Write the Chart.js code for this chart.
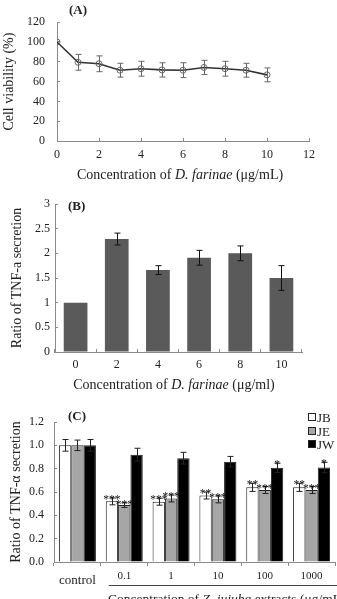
<!DOCTYPE html>
<html>
<head>
<meta charset="utf-8">
<script src="https://cdn.jsdelivr.net/npm/chart.js@4.4.1/dist/chart.umd.min.js"></script>
<style>
  body { margin: 0; background: #fff; }
  #wrap { position: relative; width: 337px; height: 599px; overflow: hidden;
          font-family: 'Liberation Serif', 'Times New Roman', serif; color: #222; }
  canvas { position: absolute; left: 0; }
  .lbl { position: absolute; white-space: nowrap; line-height: 16px; }
  .xt { font-size: 14px; transform: translateX(-50%); }
  .pl { font-weight: bold; font-size: 13px; }
  .leg { position: absolute; left: 308px; font-size: 13px; line-height: 13px; white-space: nowrap; }
  .sw { display: inline-block; width: 6px; height: 6px; border: 1px solid #222; margin-right: 1px; vertical-align: 1px; }
</style>
</head>
<body>
<div id="wrap">
  <canvas id="chartA" width="337" height="165" style="top:0px"></canvas>
  <canvas id="chartB" width="337" height="190" style="top:185px"></canvas>
  <canvas id="chartC" width="337" height="204" style="top:395px"></canvas>

  <div class="lbl pl" style="left:69px; top:2px">(A)</div>
  <div class="lbl pl" style="left:68px; top:198px">(B)</div>
  <div class="lbl pl" style="left:68px; top:408px">(C)</div>

  <div class="lbl xt" style="left:180px; top:167px">Concentration of <i>D. farinae</i> (μg/mL)</div>
  <div class="lbl xt" style="left:174px; top:377px">Concentration of <i>D. farinae</i> (μg/ml)</div>
  <div class="lbl" style="left:108px; top:591px; font-size:13.5px">Concentration of <i>Z. jujuba</i> extracts (μg/mL)</div>

  <div class="leg" style="top:411px"><span class="sw" style="background:#fff"></span>JB</div>
  <div class="leg" style="top:425px"><span class="sw" style="background:#a6a6a6"></span>JE</div>
  <div class="leg" style="top:438px"><span class="sw" style="background:#000"></span>JW</div>
</div>

<script>
// (A) cell viability vs D. farinae dose
const aDose = [0, 1, 2, 3, 4, 5, 6, 7, 8, 9, 10];
const aViability = [100, 79.5, 78, 71.5, 73, 71.8, 71.5, 74.3, 73, 71.5, 66.8];
const aSd = [0, 8, 8, 7, 7.5, 7.2, 7.5, 7.2, 7.5, 7, 7];

// (B) TNF-a ratio vs D. farinae dose
const bDose = ['0', '2', '4', '6', '8', '10'];
const bRatio = [1.0, 2.29, 1.66, 1.91, 2.0, 1.5];
const bSd = [0, 0.12, 0.09, 0.15, 0.15, 0.25];

// (C) TNF-a ratio with Z. jujuba extracts
const cGroups = ['control', '0.1', '1', '10', '100', '1000'];
const cJB = [1.0, 0.52, 0.517, 0.57, 0.64, 0.64];
const cJE = [1.0, 0.488, 0.545, 0.537, 0.617, 0.617];
const cJW = [1.0, 0.92, 0.89, 0.86, 0.807, 0.81];
const cJBsd = [0.05, 0.03, 0.03, 0.03, 0.035, 0.035];
const cJEsd = [0.045, 0.02, 0.03, 0.03, 0.03, 0.03];
const cJWsd = [0.05, 0.055, 0.05, 0.045, 0.04, 0.045];
const cJBstars = ['', '***', '***', '**', '**', '**'];
const cJEstars = ['', '***', '***', '***', '***', '***'];
const cJWstars = ['', '', '', '', '*', '*'];

Chart.defaults.font.family = "'Liberation Serif', 'Times New Roman', serif";
Chart.defaults.font.size = 12;
Chart.defaults.color = '#222';
Chart.defaults.animation = false;

const AXIS = '#8a8a8a';

// draws error bars (and optional star marks) from dataset.errorBars / dataset.stars
const errorBarPlugin = {
  id: 'errorBars',
  afterDatasetsDraw(chart, args, opts) {
    const ctx = chart.ctx;
    const y = chart.scales.y;
    chart.data.datasets.forEach((ds, i) => {
      if (!ds.errorBars) return;
      const meta = chart.getDatasetMeta(i);
      meta.data.forEach((el, j) => {
        const raw = ds.data[j];
        const v = typeof raw === 'object' ? raw.y : raw;
        const e = ds.errorBars[j];
        const top = y.getPixelForValue(v + e);
        const bot = y.getPixelForValue(v - e);
        const x = Math.round(el.x) + 0.5;
        if (e > 0) {
          ctx.save();
          ctx.strokeStyle = opts.color || '#000';
          ctx.lineWidth = 1;
          ctx.beginPath();
          ctx.moveTo(x, top); ctx.lineTo(x, bot);
          ctx.moveTo(x - opts.cap, top); ctx.lineTo(x + opts.cap, top);
          ctx.moveTo(x - opts.cap, bot); ctx.lineTo(x + opts.cap, bot);
          ctx.stroke();
          ctx.restore();
        }
        if (ds.stars && ds.stars[j]) {
          ctx.save();
          ctx.fillStyle = '#111';
          ctx.font = "11.5px 'Liberation Serif'";
          ctx.textAlign = 'center';
          ctx.textBaseline = 'alphabetic';
          ctx.fillText(ds.stars[j], el.x, top + 5);
          ctx.restore();
        }
      });
    });
  }
};

function fixW(w) { return scale => { scale.width = w; }; }
function fixH(h) { return scale => { scale.height = h; }; }

// ---- (A)
new Chart(document.getElementById('chartA'), {
  type: 'line',
  data: {
    datasets: [{
      data: aDose.map((d, i) => ({ x: d, y: aViability[i] })),
      errorBars: aSd,
      borderColor: '#333',
      borderWidth: 1.6,
      pointRadius: 3,
      pointBorderWidth: 1,
      pointBorderColor: '#666',
      pointBackgroundColor: 'rgba(255,255,255,0)',
      tension: 0
    }]
  },
  options: {
    responsive: false,
    layout: { padding: { top: 7, right: 28, left: 0, bottom: 0 } },
    plugins: { legend: { display: false }, tooltip: { enabled: false },
               errorBars: { color: '#666', cap: 3 } },
    scales: {
      x: {
        type: 'linear', min: 0, max: 12,
        afterFit: fixH(24),
        ticks: { stepSize: 2, padding: 10 },
        grid: { drawOnChartArea: false, tickLength: -3, color: AXIS },
        border: { color: AXIS }
      },
      y: {
        min: 0, max: 120,
        afterFit: fixW(57),
        ticks: { stepSize: 20, padding: 15 },
        grid: { drawOnChartArea: false, tickLength: -3, color: AXIS },
        border: { color: AXIS },
        title: { display: true, text: 'Cell viability (%)', font: { size: 14 }, padding: { top: 1, bottom: 0 } }
      }
    }
  },
  plugins: [errorBarPlugin]
});

// ---- (B)
new Chart(document.getElementById('chartB'), {
  type: 'bar',
  data: {
    labels: bDose,
    datasets: [{
      data: bRatio,
      errorBars: bSd,
      backgroundColor: '#5a5a5a',
      borderWidth: 0,
      barPercentage: 0.72,
      categoryPercentage: 0.8
    }]
  },
  options: {
    responsive: false,
    layout: { padding: { top: 19, right: 35, left: 0, bottom: 0 } },
    plugins: { legend: { display: false }, tooltip: { enabled: false },
               errorBars: { color: '#111', cap: 3 } },
    scales: {
      x: {
        afterFit: fixH(23),
        ticks: { padding: 9 },
        grid: { drawOnChartArea: false, tickLength: -3, color: AXIS },
        border: { color: AXIS }
      },
      y: {
        min: 0, max: 3,
        afterFit: fixW(55),
        ticks: { stepSize: 0.5, padding: 8, callback: v => String(v) },
        grid: { drawOnChartArea: false, tickLength: -3, color: AXIS },
        border: { color: AXIS },
        title: { display: true, text: 'Ratio of TNF-a secretion', font: { size: 14 }, padding: { top: 9, bottom: 0 } }
      }
    }
  },
  plugins: [errorBarPlugin]
});

// ---- (C)
const cLabelsPlugin = {
  id: 'cLabels',
  afterDraw(chart) {
    const x = chart.scales.x;
    const ctx = chart.ctx;
    ctx.save();
    ctx.fillStyle = '#222';
    ctx.textAlign = 'center';
    ctx.textBaseline = 'middle';
    cGroups.forEach((g, i) => {
      const px = x.getPixelForValue(i);
      if (i === 0) {
        ctx.font = "13px 'Liberation Serif'";
        ctx.fillText(g, px, 186);
      } else {
        ctx.font = "11px 'Liberation Serif'";
        ctx.fillText(g, px, 181);
      }
    });
    ctx.strokeStyle = '#444';
    ctx.lineWidth = 1;
    ctx.beginPath();
    ctx.moveTo(x.getPixelForValue(0.5) + 8, 190.5);
    ctx.lineTo(chart.width, 190.5);
    ctx.stroke();
    ctx.restore();
  }
};

const cBar = { borderColor: '#222', borderWidth: 1, barPercentage: 1, categoryPercentage: 0.79 };

new Chart(document.getElementById('chartC'), {
  type: 'bar',
  data: {
    labels: cGroups,
    datasets: [
      Object.assign({ label: 'JB', data: cJB, errorBars: cJBsd, stars: cJBstars, backgroundColor: '#ffffff' }, cBar),
      Object.assign({ label: 'JE', data: cJE, errorBars: cJEsd, stars: cJEstars, backgroundColor: '#a6a6a6' }, cBar),
      Object.assign({ label: 'JW', data: cJW, errorBars: cJWsd, stars: cJWstars, backgroundColor: '#000000' }, cBar)
    ]
  },
  options: {
    responsive: false,
    layout: { padding: { top: 27, right: 2, left: 0, bottom: 0 } },
    plugins: { legend: { display: false }, tooltip: { enabled: false },
               errorBars: { color: '#222', cap: 3 } },
    scales: {
      x: {
        afterFit: fixH(37),
        ticks: { display: false },
        grid: { drawOnChartArea: false, tickLength: 4, color: AXIS },
        border: { color: AXIS }
      },
      y: {
        min: 0, max: 1.2,
        afterFit: fixW(54),
        ticks: { stepSize: 0.2, padding: 13, callback: v => v.toFixed(1) },
        grid: { drawOnChartArea: false, tickLength: -3, color: AXIS },
        border: { color: AXIS },
        title: { display: true, text: 'Ratio of TNF-α secretion', font: { size: 14 }, padding: { top: 8, bottom: 0 } }
      }
    }
  },
  plugins: [errorBarPlugin, cLabelsPlugin]
});
</script>
</body>
</html>
